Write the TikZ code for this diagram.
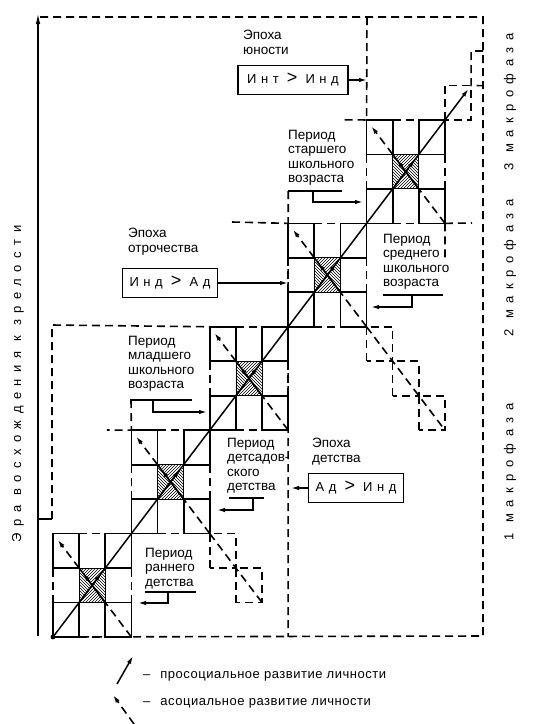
\documentclass[tikz,border=0pt]{standalone}
\usepackage{fontspec}
\setmainfont{Liberation Sans}
\newfontfamily\spaced[LetterSpace=35]{Liberation Sans}
\newfontfamily\widespaced[LetterSpace=50]{Liberation Sans}
\newfontfamily\legfont[LetterSpace=4]{Liberation Sans}
\usetikzlibrary{arrows.meta,patterns,calc}
\begin{document}
\begin{tikzpicture}[x=1pt,y=-1pt,
  ln/.style={line width=1.5pt},
  dsh/.style={line width=1.6pt,dash pattern=on 8pt off 5pt},
  sq/.style={line width=1.7pt},
  tip/.style={-{Latex[length=8pt,width=4.5pt]}},
  lbl/.style={font=\fontsize{13.5}{14.5}\selectfont, align=left, inner sep=0pt, anchor=north west},
  box/.style={draw, line width=1.6pt, inner sep=0pt, minimum height=29pt, font=\fontsize{13}{14}\selectfont\spaced},
  rot/.style={rotate=90, font=\fontsize{13}{14}\selectfont\widespaced, inner sep=0pt}
]
\useasboundingbox (0,0) rectangle (534,724);
\foreach \i in {0,...,17}{\foreach \j in {0,...,17}{\coordinate (g\i-\j) at ({53+26.13*\i},{637-34.47*\j});}}

% crosses
\foreach \b in {0,3,6,9,12}{
  \pgfmathtruncatemacro\a{\b+1}
  \pgfmathtruncatemacro\c{\b+2}
  \pgfmathtruncatemacro\d{\b+3}
  \coordinate (m) at ($(g\a-\a)!0.5!(g\c-\c)$);
  \fill[pattern=north east lines] (g\a-\a) -- (m) -- (g\c-\a) -- cycle;
  \fill[pattern=north east lines] (g\a-\c) -- (m) -- (g\c-\c) -- cycle;
  \fill[pattern=north west lines] (g\a-\a) -- (m) -- (g\a-\c) -- cycle;
  \fill[pattern=north west lines] (g\c-\a) -- (m) -- (g\c-\c) -- cycle;
  \draw[line width=0.8pt] (g\a-\a) rectangle (g\c-\c);
  \draw[sq] (g\b-\b) rectangle (g\a-\a);
  \draw[sq] (g\c-\b) rectangle (g\d-\a);
  \draw[sq] (g\b-\c) rectangle (g\a-\d);
  \draw[sq] (g\c-\c) rectangle (g\d-\d);
  \draw[dsh] (g\a-\d) -- (g\c-\d);
  \draw[dsh] (g\a-\b) -- (g\c-\b);
  \draw[dsh] (g\b-\a) -- (g\b-\c);
  \draw[dsh] (g\d-\a) -- (g\d-\c);
  \draw[dsh] (g\d-\b) -- (g\c-\a);
  \draw[ln] (g\c-\a) -- (g\a-\c);
  \draw[ln,tip] (g\c-\a) -- ($(g\c-\a)!0.85!(g\a-\c)$);
  \draw[dsh,tip] (g\a-\c) -- ($(g\a-\c)!0.82!(g\b-\d)$);
  \draw[ln,tip] (g\a-\a) -- ($(g\a-\a)!0.85!(g\c-\c)$);
}

% continuation (asocial) squares
\draw[dsh] (g6-2) rectangle (g7-3) (g7-1) rectangle (g8-2);
\draw[dsh] (g6-3) -- (g8-1);
\draw[dsh] (g12-8) rectangle (g13-9) (g13-7) rectangle (g14-8) (g14-6) rectangle (g15-7);
\draw[dsh] (g12-9) -- (g15-6);

% top dashed squares
\draw[dsh] (g15-15) rectangle (g16-16);
\coordinate (fr1) at (483,51);
\coordinate (fr2) at (483,85.6);
\draw[dsh] (fr1) -- (g16-17) -- (g16-16) -- (fr2);

% main prosocial diagonal
\draw[ln] (g0-0) -- (g15-15);
\draw[ln,tip] (g15-15) -- ($(g15-15)!0.9!(g16-16)$);
\fill (g0-0) circle (2.4pt);

% axis
\coordinate (axb) at (38,636);
\coordinate (axt) at (38,13);
\draw[ln,-{Latex[length=11pt,width=4.5pt]}] (axb) -- (axt);
\node[rot] (axl) at (18,384) {Эра восхождения к зрелости};

% outer frame
\coordinate (f1) at (40,17);
\coordinate (f2) at (483,17);
\coordinate (f3) at (483,636);
\draw[dsh] (f1) -- (f2) -- (f3) -- (g0-0);

% childhood epoch boundary
\coordinate (c1) at (38,519);
\coordinate (c2) at (52,519);
\coordinate (c3) at (52,325);
\draw[ln] (c1) -- (c2);
\draw[dsh] (c2) -- (c3) -- (g6-9);
\coordinate (c4) at (288.2,191);
\draw[dsh] (c4) -- (g9-0);

% other region pieces
\coordinate (a1) at (232,222);
\draw[dsh] (a1) -- (g9-12);
\coordinate (y1) at (367,17);
\coordinate (y3) at (342,119.9);
\draw[dsh] (y1) -- (g12-15) -- (y3);
\coordinate (s3) at (131,400);
\coordinate (s5) at (107,430);
\draw[dsh] (s3) -- (g3-6) -- (s5);
\coordinate (m2) at (445,262);
\draw[dsh] (g15-12) -- (m2);
\coordinate (m3) at (472,223);
\draw[dsh] (g15-12) -- (m3);

% youth epoch
\node[lbl] (tYu) at (243,30) {Эпоха\\юности};
\node[box, minimum width=110pt] (bYu) at (293,80) {Инт {\fontsize{18}{18}\selectfont>} Инд};
\coordinate (yuT) at (367,80);
\draw[ln,tip] (bYu.east) -- (yuT);

% senior school
\node[lbl] (tS5) at (288,130) {Период\\старшего\\школьного\\возраста};
\coordinate (u5a) at (288,191);
\coordinate (u5b) at (342,191);
\coordinate (u5c) at (313,191);
\coordinate (u5d) at (313,202);
\coordinate (u5e) at (363,202);
\draw[ln] (u5a) -- (u5b);
\draw[ln,tip] (u5c) -- (u5d) -- (u5e);

% adolescence epoch
\node[lbl] (tOt) at (128,228) {Эпоха\\отрочества};
\node[box, minimum width=95pt] (bOt) at (170,283) {Инд {\fontsize{18}{18}\selectfont>} Ад};
\coordinate (otT) at (288,283);
\draw[ln,tip] (bOt.east) -- (otT);

% middle school
\node[lbl] (tS4) at (383,234) {Период\\среднего\\школьного\\возраста};
\coordinate (u4a) at (383,295);
\coordinate (u4b) at (443,295);
\coordinate (u4c) at (412,295);
\coordinate (u4d) at (412,307);
\coordinate (u4e) at (371,307);
\draw[ln] (u4a) -- (u4b);
\draw[ln,tip] (u4c) -- (u4d) -- (u4e);

% junior school
\node[lbl] (tS3) at (128,336) {Период\\младшего\\школьного\\возраста};
\coordinate (u3a) at (130,400);
\coordinate (u3b) at (192,400);
\coordinate (u3c) at (153,400);
\coordinate (u3d) at (153,412);
\coordinate (u3e) at (207,412);
\draw[ln] (u3a) -- (u3b);
\draw[ln,tip] (u3c) -- (u3d) -- (u3e);

% kindergarten
\node[lbl] (tS2) at (227,438) {Период\\детсадов-\\ского\\ детства};
\coordinate (u2a) at (229,498);
\coordinate (u2b) at (264,498);
\coordinate (u2c) at (253,498);
\coordinate (u2d) at (253,510);
\coordinate (u2e) at (217,510);
\draw[ln] (u2a) -- (u2b);
\draw[ln,tip] (u2c) -- (u2d) -- (u2e);

% childhood epoch labels
\node[lbl] (tDe) at (312,438) {Эпоха\\детства};
\node[box, minimum width=95pt] (bDe) at (356,488) {Ад {\fontsize{18}{18}\selectfont>} Инд};
\coordinate (deT) at (291,488);
\draw[ln,tip] (bDe.west) -- (deT);

% early childhood
\node[lbl] (tS1) at (145,548) {Период\\раннего\\детства};
\coordinate (u1a) at (145,592);
\coordinate (u1b) at (196,592);
\coordinate (u1c) at (168,592);
\coordinate (u1d) at (168,603);
\coordinate (u1e) at (138,603);
\draw[ln] (u1a) -- (u1b);
\draw[ln,tip] (u1c) -- (u1d) -- (u1e);

% macrophases
\node[rot] (mf3) at (510,102) {3 макрофаза};
\node[rot] (mf2) at (510,268) {2 макрофаза};
\node[rot] (mf1) at (510,472) {1 макрофаза};

% legend
\coordinate (l1a) at (117,684);
\coordinate (l1b) at (133,656);
\draw[ln,tip] (l1a) -- (l1b);
\node[lbl, anchor=west, font=\fontsize{13}{14}\selectfont\legfont] (lt1) at (143,676) {–\hspace{10pt}просоциальное развитие личности};
\coordinate (l2a) at (134,724);
\coordinate (l2b) at (113,695);
\draw[dsh,tip] (l2a) -- (l2b);
\node[lbl, anchor=west, font=\fontsize{13}{14}\selectfont\legfont] (lt2) at (143,703) {–\hspace{10pt}асоциальное развитие личности};
\end{tikzpicture}
\end{document}
